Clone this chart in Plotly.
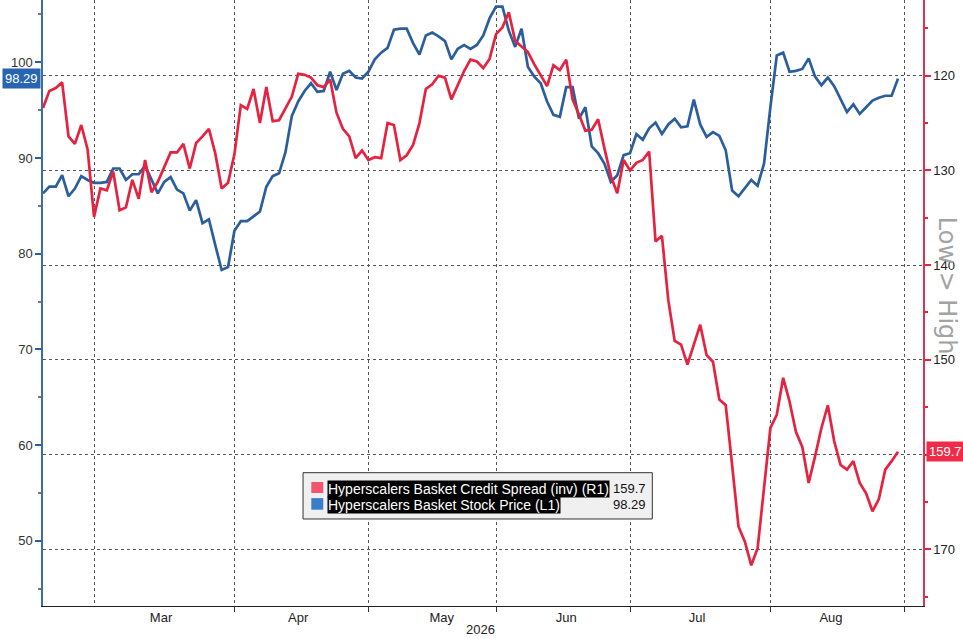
import pandas as pd
import plotly.graph_objects as go

# business days shown on the chart (US holidays skipped)
holidays = ["2026-04-03", "2026-05-25", "2026-06-19", "2026-07-03"]
dates = pd.bdate_range("2026-02-18", "2026-08-31", freq="C", holidays=holidays)

# Hyperscalers basket credit spread, inverted axis (R1)
spread = [123.4, 121.6, 121.3, 120.7, 126.4, 127.2, 125.2, 127.8, 134.9, 131.9,
          132.1, 130.1, 134.2, 133.9, 131.0, 133.0, 128.9, 132.3, 131.2, 129.7,
          128.1, 128.1, 127.2, 129.8, 127.1, 126.4, 125.6, 128.2, 131.9, 131.3,
          128.3, 123.1, 123.5, 121.4, 125.0, 121.2, 124.8, 124.7, 123.4, 122.2,
          119.8, 119.9, 120.2, 121.0, 121.2, 120.4, 123.9, 125.6, 126.4, 128.7,
          127.9, 128.9, 128.6, 128.7, 125.0, 125.2, 128.9, 128.4, 127.3, 125.0,
          121.4, 120.9, 120.0, 120.2, 122.5, 120.9, 119.5, 118.3, 118.5, 119.2,
          118.2, 115.6, 114.9, 113.3, 116.3, 116.9, 117.5, 118.8, 120.0, 121.1,
          118.9, 119.4, 118.3, 122.5, 124.1, 125.8, 125.7, 124.6, 127.7, 130.6,
          132.4, 128.9, 130.0, 129.2, 128.9, 128.0, 137.5, 136.9, 143.7, 148.0,
          148.4, 150.5, 148.4, 146.3, 149.5, 150.2, 154.2, 154.8, 161.1, 167.6,
          169.2, 171.7, 169.9, 163.2, 157.2, 155.8, 151.9, 154.4, 157.6, 159.2,
          163.0, 160.2, 157.2, 154.8, 158.6, 161.1, 161.6, 160.7, 163.0, 164.1,
          166.0, 164.7, 161.6, 160.7, 159.7]

# Hyperscalers basket stock price (L1)
price = [86.3, 87.0, 87.0, 88.2, 86.0, 86.8, 88.1, 87.7, 87.4, 87.4,
         87.5, 88.9, 88.9, 87.7, 88.3, 88.3, 89.2, 87.7, 86.3, 87.5,
         88.0, 86.7, 86.3, 84.5, 85.6, 83.2, 83.6, 80.9, 78.3, 78.6,
         82.4, 83.4, 83.4, 83.9, 84.4, 87.0, 88.1, 88.4, 90.6, 94.4,
         95.9, 97.0, 97.8, 96.9, 97.0, 99.0, 97.1, 98.8, 99.1, 98.4,
         98.3, 99.0, 100.3, 101.0, 101.5, 103.4, 103.5, 103.5, 102.0, 100.8,
         102.8, 103.1, 102.7, 102.2, 100.3, 101.4, 101.8, 101.4, 101.8, 102.8,
         104.6, 105.8, 105.8, 103.3, 101.6, 103.5, 99.5, 98.5, 97.8, 95.9,
         94.5, 94.3, 97.4, 97.4, 94.1, 95.3, 91.2, 90.5, 89.4, 87.5,
         88.2, 90.3, 90.5, 92.5, 91.9, 93.1, 93.7, 92.5, 93.5, 94.1,
         93.2, 93.3, 96.1, 93.5, 92.2, 92.7, 92.3, 90.8, 86.6, 86.0,
         86.9, 87.7, 87.1, 89.4, 95.3, 100.7, 101.0, 99.0, 99.1, 99.3,
         100.4, 98.5, 97.6, 98.4, 97.5, 96.1, 94.8, 95.6, 94.6, 95.3,
         96.0, 96.3, 96.5, 96.5, 98.29]

left_ticks = [50, 60, 70, 80, 90, 100]
right_ticks = [120, 130, 140, 150, 160, 170]
# the 160 label sits under the last-value tag, so it is left blank
right_labels = ["120", "130", "140", "150", "", "170"]

RED = "#e5223f"
BLUE = "#2b5e9c"
FONT = "Liberation Sans"

fig = go.Figure()
fig.add_trace(go.Scatter(x=dates, y=price, mode="lines", yaxis="y",
                         line=dict(color=BLUE, width=2.7), showlegend=False))
fig.add_trace(go.Scatter(x=dates, y=spread, mode="lines", yaxis="y2",
                         line=dict(color=RED, width=2.7), showlegend=False))

fig.update_layout(
    width=963, height=638,
    margin=dict(l=43, r=40, t=0, b=32),
    paper_bgcolor="white", plot_bgcolor="white",
    font=dict(family=FONT, size=13, color="#222"),
    xaxis=dict(
        range=["2026-02-18", "2026-09-03 22:00"],
        rangebreaks=[dict(bounds=["sat", "mon"]), dict(values=holidays)],
        dtick="M1", tick0="2026-03-01", tickformat="%b",
        ticklabelmode="period", ticklabelstandoff=-6,
        showgrid=True, gridcolor="#555", griddash="dot", gridwidth=1,
        ticks="outside", ticklen=5, tickcolor="#333",
        showline=True, linecolor="#222", linewidth=1,
        zeroline=False,
    ),
    yaxis=dict(
        range=[43.2, 106.5], tickvals=left_ticks,
        showgrid=False, zeroline=False,
        showline=True, linecolor="#3a6ea5", linewidth=1.5,
        ticks="outside", ticklen=6, tickwidth=2, tickcolor=BLUE,
        minor=dict(dtick=5, ticks="outside", ticklen=3, tickcolor="#777"),
        tickfont=dict(size=13, color="#333"),
    ),
    yaxis2=dict(
        overlaying="y", side="right",
        range=[176.0, 112.0], tickvals=right_ticks, ticktext=right_labels,
        showgrid=True, gridcolor="#555", griddash="dot", gridwidth=1,
        zeroline=False,
        showline=True, linecolor="#d93450", linewidth=1.5,
        ticks="outside", ticklen=6, tickwidth=2, tickcolor=RED,
        minor=dict(dtick=5, ticks="outside", ticklen=3, tickcolor=RED),
        tickfont=dict(size=13, color="#222"),
    ),
)

# last value tags
fig.add_annotation(x=0, xref="paper", y=price[-1], yref="y", text="98.29",
                   xanchor="right", yanchor="middle", showarrow=False,
                   bgcolor="#2765b2", font=dict(color="white", size=13),
                   borderpad=2, xshift=-2)
fig.add_annotation(x=1, xref="paper", y=spread[-1], yref="y2", text="159.7",
                   xanchor="left", yanchor="middle", showarrow=False,
                   bgcolor="#ee2c48", font=dict(color="white", size=13),
                   borderpad=2, xshift=3)

# right axis caption
fig.add_annotation(x=1.0276, xref="paper", y=0.528, yref="paper",
                   text="Low&nbsp;&gt;&nbsp;High",
                   textangle=90, showarrow=False, xanchor="center", yanchor="middle",
                   font=dict(family="DejaVu Sans", size=24, color="#a3a3a3"))

# year under month labels
fig.add_annotation(x=0.497, xref="paper", y=-0.039, yref="paper", text="2026",
                   showarrow=False, xanchor="center", yanchor="middle",
                   font=dict(size=13, color="#222"))

# legend box
fig.add_shape(type="rect", xref="paper", yref="paper",
              x0=0.2955, x1=0.6924, y0=0.1436, y1=0.2200,
              fillcolor="#f0f0f0", line=dict(color="#333", width=1))
fig.add_shape(type="rect", xref="paper", yref="paper",
              x0=0.3049, x1=0.3185, y0=0.1865, y1=0.2046,
              fillcolor="#f2566e", line=dict(width=0))
fig.add_shape(type="rect", xref="paper", yref="paper",
              x0=0.3049, x1=0.3185, y0=0.1589, y1=0.1780,
              fillcolor="#3a7dc9", line=dict(width=0))
fig.add_annotation(x=0.3231, xref="paper", y=0.1931, yref="paper",
                   text="Hyperscalers Basket Credit Spread (inv) (R1)",
                   xanchor="left", yanchor="middle", showarrow=False,
                   bgcolor="black", borderpad=0,
                   font=dict(size=14, color="white"))
fig.add_annotation(x=0.3231, xref="paper", y=0.1667, yref="paper",
                   text="Hyperscalers Basket Stock Price (L1)",
                   xanchor="left", yanchor="middle", showarrow=False,
                   bgcolor="black", borderpad=0,
                   font=dict(size=14, color="white"))
fig.add_annotation(x=0.6833, xref="paper", y=0.1931, yref="paper", text="159.7",
                   xanchor="right", yanchor="middle", showarrow=False, xshift=4,
                   font=dict(size=13, color="#111"))
fig.add_annotation(x=0.6833, xref="paper", y=0.1667, yref="paper", text="98.29",
                   xanchor="right", yanchor="middle", showarrow=False, xshift=4,
                   font=dict(size=13, color="#111"))

# the page body has a default 8px margin; drop it so the figure fills the window
fig.write_html("out.html", config={"displayModeBar": False},
               post_script="document.body.style.margin='0';")
